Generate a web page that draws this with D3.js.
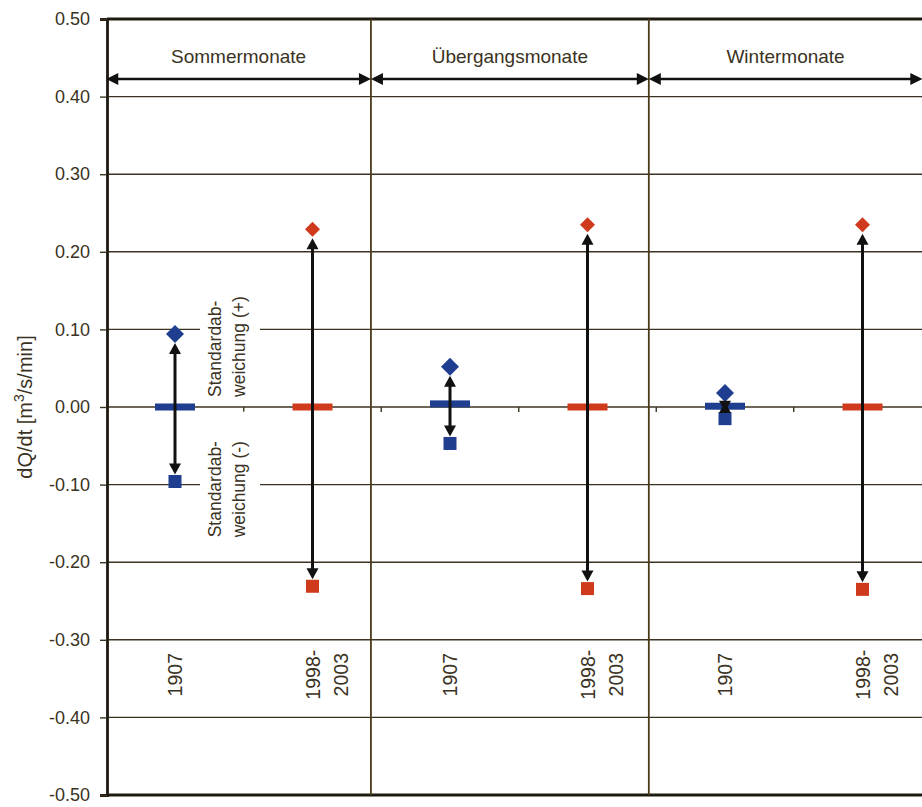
<!DOCTYPE html>
<html>
<head>
<meta charset="utf-8">
<title>dQ/dt Standardabweichung</title>
<script src="https://cdn.jsdelivr.net/npm/d3@7"></script>
<style>
	body { margin: 0; background: #fff; }
	text { font-family: "Liberation Sans", Arial, sans-serif; fill: #3a3222; }
</style>
</head>
<body>
<div id="chart"></div>

<script>
	// data
	var categories = [["1907"], ["1998-", "2003"], ["1907"], ["1998-", "2003"], ["1907"], ["1998-", "2003"]];
	var periods = ["1907", "1998-2003", "1907", "1998-2003", "1907", "1998-2003"];
	var seasons = ["Sommermonate", "Übergangsmonate", "Wintermonate"];
	var upperValues = [0.094, 0.229, 0.052, 0.235, 0.018, 0.235];
	var lowerValues = [-0.096, -0.231, -0.047, -0.234, -0.015, -0.235];
	var meanValues = [0.0, 0.0, 0.004, 0.0, 0.001, 0.0];
	var yTicks = [-0.5, -0.4, -0.3, -0.2, -0.1, 0.0, 0.1, 0.2, 0.3, 0.4, 0.5];
	// season boundaries in category units
	var seasonBounds = [0, 1.925, 3.946, 5.935];

	var W = 922, H = 807;
	var left = 107;

	var svg = d3.select("#chart").append("svg")
		.attr("width", W)
		.attr("height", H);

	var y = d3.scaleLinear().domain([-0.5, 0.5]).range([795, 19]);
	var x = d3.scaleLinear().domain([0, 6]).range([106.25, 931.25]);
	var color = d3.scaleOrdinal().domain(["1907", "1998-2003"]).range(["#1f3e8f", "#cf3a1c"]);

	var gridCol = "#3d3322";
	var fmt = function(d) { return d3.format(".2f")(d).replace("\u2212", "-"); };

	// grid lines
	svg.selectAll(".grid")
		.data(yTicks.filter(function(d) { return d > -0.45 && d < 0.45; }))
		.enter().append("line")
		.attr("class", "grid")
		.attr("x1", left).attr("x2", W)
		.attr("y1", function(d) { return y(d); })
		.attr("y2", function(d) { return y(d); })
		.attr("stroke", gridCol)
		.attr("stroke-width", 1.4);

	// small ticks on the zero line at category edges
	svg.selectAll(".cat-tick")
		.data([1, 2, 3, 4, 5])
		.enter().append("line")
		.attr("x1", function(d) { return x(d); })
		.attr("x2", function(d) { return x(d); })
		.attr("y1", y(0)).attr("y2", y(0) + 5)
		.attr("stroke", gridCol)
		.attr("stroke-width", 1.4);

	// top and bottom frame
	svg.append("line")
		.attr("x1", left).attr("x2", W)
		.attr("y1", y(0.5)).attr("y2", y(0.5))
		.attr("stroke", "#1e1a10").attr("stroke-width", 2.8);
	svg.append("line")
		.attr("x1", left).attr("x2", W)
		.attr("y1", y(-0.5)).attr("y2", y(-0.5))
		.attr("stroke", "#1e1a10").attr("stroke-width", 2.8);

	// season dividers
	svg.selectAll(".divider")
		.data(seasonBounds.slice(1, 3))
		.enter().append("line")
		.attr("x1", function(d) { return x(d); })
		.attr("x2", function(d) { return x(d); })
		.attr("y1", y(0.5)).attr("y2", y(-0.5))
		.attr("stroke", "#4a3c18")
		.attr("stroke-width", 1.8);

	// y axis
	var yAxis = svg.append("g")
		.attr("transform", "translate(" + left + ",0)")
		.call(d3.axisLeft(y).tickValues(yTicks).tickSize(7).tickPadding(10).tickFormat(fmt));
	yAxis.select(".domain").attr("stroke", "#1e1a10").attr("stroke-width", 2.8);
	yAxis.selectAll(".tick line").attr("stroke", gridCol).attr("stroke-width", 1.4);
	yAxis.selectAll(".tick text")
		.attr("font-size", "18px")
		.attr("font-family", "Liberation Sans, Arial, sans-serif")
		.attr("fill", "#3a3222");

	// y label
	var ylab = svg.append("text")
		.attr("transform", "translate(32," + y(0) + ") rotate(-90)")
		.attr("text-anchor", "middle")
		.attr("font-size", "20px");
	ylab.append("tspan").text("dQ/dt [m");
	ylab.append("tspan").attr("dy", -8).attr("font-size", "14px").text("3");
	ylab.append("tspan").attr("dy", 8).text("/s/min]");

	// season headers with double arrows
	var arrowY = 79;
	seasons.forEach(function(s, i) {
		var x0 = x(seasonBounds[i]), x1 = x(seasonBounds[i + 1]);
		svg.append("text")
			.attr("x", (x0 + x1) / 2)
			.attr("y", 63)
			.attr("text-anchor", "middle")
			.attr("font-size", "19px")
			.text(s);
		svg.append("line")
			.attr("x1", x0 + 4).attr("x2", x1 - 4)
			.attr("y1", arrowY).attr("y2", arrowY)
			.attr("stroke", "#111").attr("stroke-width", 2.4);
		svg.append("path")
			.attr("d", "M" + x0 + "," + arrowY + "l12,-6v12z")
			.attr("fill", "#111");
		svg.append("path")
			.attr("d", "M" + x1 + "," + arrowY + "l-12,-6v12z")
			.attr("fill", "#111");
	});

	// text boxes for the standard deviation note (white behind, cuts grid)
	var noteX = x(0.5) + 25;
	svg.append("rect")
		.attr("x", noteX).attr("y", y(0.175))
		.attr("width", 60).attr("height", y(0.01) - y(0.175))
		.attr("fill", "#fff");
	svg.append("rect")
		.attr("x", noteX).attr("y", y(-0.006))
		.attr("width", 60).attr("height", y(-0.17) - y(-0.006))
		.attr("fill", "#fff");
	[["Standardab-", "weichung (+)", y(0.013)], ["Standardab-", "weichung (-)", y(-0.168)]].forEach(function(n) {
		n.slice(0, 2).forEach(function(line, j) {
			svg.append("text")
				.attr("transform", "translate(" + (noteX + 21 + j * 24) + "," + n[2] + ") rotate(-90)")
				.attr("font-size", "17.5px")
				.text(line);
		});
	});

	var cx = function(i) { return x(i + 0.5); };
	var idx = d3.range(categories.length);

	// lower squares
	svg.selectAll(".low")
		.data(idx).enter().append("rect")
		.attr("x", function(i) { return cx(i) - 6.5; })
		.attr("y", function(i) { return y(lowerValues[i]) - 6.5; })
		.attr("width", 13).attr("height", 13)
		.attr("fill", function(i) { return color(periods[i]); });

	// upper diamonds
	svg.selectAll(".up")
		.data(idx).enter().append("path")
		.attr("d", function(i) {
			var r = periods[i] === "1907" ? 9 : 7.5;
			var px = cx(i), py = y(upperValues[i]);
			return "M" + px + "," + (py - r) + "L" + (px + r) + "," + py + "L" + px + "," + (py + r) + "L" + (px - r) + "," + py + "Z";
		})
		.attr("fill", function(i) { return color(periods[i]); });

	// mean bars
	svg.selectAll(".mean")
		.data(idx).enter().append("rect")
		.attr("x", function(i) { return cx(i) - 20; })
		.attr("y", function(i) { return y(meanValues[i]) - 3.5; })
		.attr("width", 40).attr("height", 7)
		.attr("fill", function(i) { return color(periods[i]); });

	// double arrows between upper and lower values
	idx.forEach(function(i) {
		var px = cx(i);
		var top = y(upperValues[i]) + 9;
		var bot = y(lowerValues[i]) - 7;
		svg.append("line")
			.attr("x1", px).attr("x2", px)
			.attr("y1", top + 6).attr("y2", bot - 6)
			.attr("stroke", "#111").attr("stroke-width", 3);
		svg.append("path")
			.attr("d", "M" + px + "," + top + "l6,11h-12z")
			.attr("fill", "#111");
		svg.append("path")
			.attr("d", "M" + px + "," + bot + "l6,-11h-12z")
			.attr("fill", "#111");
	});

	// category labels (rotated)
	idx.forEach(function(i) {
		categories[i].forEach(function(line, j) {
			svg.append("text")
				.attr("transform", "translate(" + (cx(i) + 7 + j * 28) + "," + y(-0.345) + ") rotate(-90)")
				.attr("text-anchor", "middle")
				.attr("font-size", "19.5px")
				.text(line);
		});
	});
</script>
</body>
</html>
